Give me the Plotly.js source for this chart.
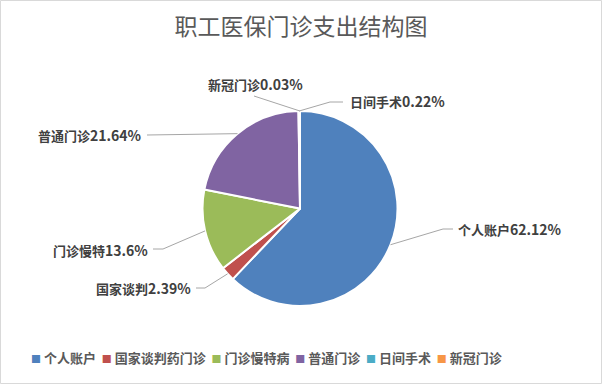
<!DOCTYPE html>
<html>
<head>
<meta charset="utf-8">
<script src="https://cdn.plot.ly/plotly-3.0.1.min.js"></script>
<style>html,body{margin:0;padding:0;background:#fff;}#chart{width:602px;height:384px;}</style>
</head>
<body>
<div id="chart"></div>
<script>
// ---- data ----
const legendNames = ['个人账户', '国家谈判药门诊', '门诊慢特病', '普通门诊', '日间手术', '新冠门诊'];
const labelNames = ['个人账户', '国家谈判', '门诊慢特', '普通门诊', '日间手术', '新冠门诊'];
const values = [62.12, 2.39, 13.6, 21.64, 0.22, 0.03];
const percentText = ['62.12%', '2.39%', '13.6%', '21.64%', '0.22%', '0.03%'];
const sliceColors = ['#4F81BD', '#C0504D', '#9BBB59', '#8064A2', '#4BACC6', '#F79646'];
const chartTitle = '职工医保门诊支出结构图';

// ---- layout config (pixels) ----
const W = 602, H = 384;
const geo = { cx: 300, cy: 208.5, r: 97.5 };
const labelLayout = [
  { elbow: [443, 229], end: [453, 229], text: [456, 229], anchor: 'left' },
  { elbow: [205, 288], end: [196, 288], text: [193, 288], anchor: 'right' },
  { elbow: [163, 249], end: [153, 249], text: [150, 250], anchor: 'right' },
  { elbow: null, end: [147, 135], text: [144, 135.5], anchor: 'right' },
  { elbow: [330, 102], end: [343, 102], text: [348, 101], anchor: 'left' },
  { elbow: null, end: [254, 96], text: [305, 84], anchor: 'right' }
];
const FONT = '"Noto Sans CJK SC", "Noto Sans", sans-serif';
const X = p => p / W;
const Y = p => 1 - p / H;

const total = values.reduce((a, b) => a + b, 0);
const shapes = [];
const annotations = [];
let cum = 0;
values.forEach((v, i) => {
  const th = 2 * Math.PI * (cum + v / 2) / total;
  cum += v;
  const ex = geo.cx + geo.r * Math.sin(th);
  const ey = geo.cy - geo.r * Math.cos(th);
  const L = labelLayout[i];
  let path = `M ${X(ex)},${Y(ey)}`;
  if (L.elbow) path += ` L ${X(L.elbow[0])},${Y(L.elbow[1])}`;
  path += ` L ${X(L.end[0])},${Y(L.end[1])}`;
  shapes.push({ type: 'path', xref: 'paper', yref: 'paper', path: path,
    line: { color: '#A6A6A6', width: 1 } });
  annotations.push({
    xref: 'paper', yref: 'paper', x: X(L.text[0]), y: Y(L.text[1]),
    xanchor: L.anchor, yanchor: 'middle', showarrow: false,
    text: `<b>${labelNames[i]}</b><span style="font-size:14px"><b>${percentText[i]}</b></span>`,
    font: { family: FONT, size: 13, color: '#404040' }
  });
});

// legend built as one text line
const legendText = legendNames.map((n, i) =>
  `<span style="color:${sliceColors[i]};font-size:10px">■</span> <b>${n}</b>`).join('  ');
annotations.push({
  xref: 'paper', yref: 'paper', x: X(29), y: Y(357), xanchor: 'left', yanchor: 'middle',
  showarrow: false, text: legendText,
  font: { family: FONT, size: 13, color: '#595959' }
});

// chart border
shapes.push({ type: 'rect', xref: 'paper', yref: 'paper',
  x0: X(0.5), x1: X(601.5), y0: Y(383.5), y1: Y(0.5),
  line: { color: '#D9D9D9', width: 1 } });

const trace = {
  type: 'pie',
  labels: legendNames,
  values: values,
  sort: false,
  direction: 'clockwise',
  rotation: 0,
  textinfo: 'none',
  hoverinfo: 'none',
  marker: { colors: sliceColors, line: { color: '#FFFFFF', width: 2 } },
  domain: { x: [X(geo.cx - geo.r), X(geo.cx + geo.r)], y: [Y(geo.cy + geo.r), Y(geo.cy - geo.r)] },
  showlegend: false
};

const layout = {
  width: W, height: H,
  margin: { l: 0, r: 0, t: 0, b: 0 },
  paper_bgcolor: '#FFFFFF',
  title: { text: chartTitle, x: 0.5, xanchor: 'center', y: 1 - 27 / H, yanchor: 'middle',
    font: { family: FONT, size: 23, color: '#595959' } },
  showlegend: false,
  shapes: shapes,
  annotations: annotations
};

Plotly.newPlot('chart', [trace], layout, { displayModeBar: false, staticPlot: true });
</script>
</body>
</html>
